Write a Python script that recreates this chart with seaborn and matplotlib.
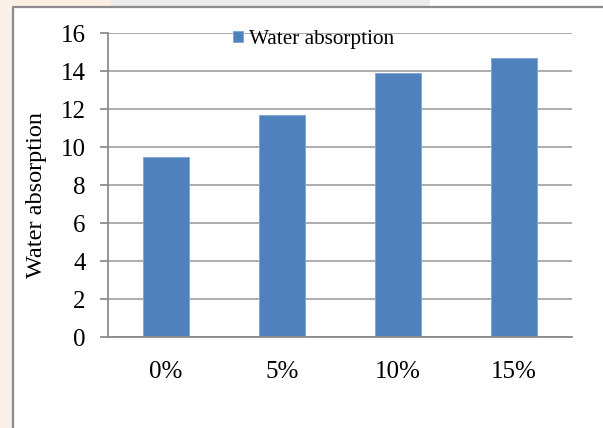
import matplotlib
matplotlib.use("Agg")
import matplotlib.pyplot as plt
from matplotlib.lines import Line2D
from matplotlib.patches import Rectangle
import seaborn as sns
import pandas as pd

categories = ["0%", "5%", "10%", "15%"]
water_absorption = [9.5, 11.7, 13.9, 14.7]
y_ticks = [0, 2, 4, 6, 8, 10, 12, 14, 16]
series_name = "Water absorption"

sns.set_style("white")
plt.rcParams["font.family"] = ["Liberation Serif", "DejaVu Serif"]
plt.rcParams["text.color"] = "black"
plt.rcParams["axes.labelcolor"] = "black"
plt.rcParams["xtick.labelcolor"] = "black"
plt.rcParams["ytick.labelcolor"] = "black"

W, H = 603, 428
fig = plt.figure(figsize=(W / 100, H / 100), dpi=100, facecolor="white")

# faint page background showing outside the chart frame
bg = [
    (0, H - 6, 110, 6, "#fdeee2"),
    (110, H - 6, 320, 6, "#ececec"),
    (0, 0, 12, H, "#fbf1ea"),
]
for x0, y0, w, h, c in bg:
    fig.patches.append(Rectangle((x0 / W, y0 / H), w / W, h / H,
                                 transform=fig.transFigure, color=c,
                                 lw=0, zorder=0))

# chart frame (left and top edges visible)
fx, fy = 12.5 / W, 1 - 6.5 / H
fig.lines.append(Line2D([fx, fx], [0, fy], transform=fig.transFigure,
                        color="#8c8c8c", lw=1.6))
fig.lines.append(Line2D([fx, 1], [fy, fy], transform=fig.transFigure,
                        color="#8c8c8c", lw=1.6))

ax = fig.add_axes([108 / W, 1 - 337 / H, (572 - 108) / W, (337 - 33) / H])
ax.set_facecolor("white")

df = pd.DataFrame({"cat": categories, "val": water_absorption})
sns.barplot(data=df, x="cat", y="val", color="#4F81BD", width=0.4,
            saturation=1, ax=ax, label=series_name, zorder=3,
            edgecolor="#7fa3d4", linewidth=0.6)

ax.set_xlim(-0.5, len(categories) - 0.5)
ax.set_ylim(0, 16)
ax.set_yticks(y_ticks)
ax.yaxis.grid(True, color="#a6a6a6", lw=1.3, zorder=0)
ax.set_axisbelow(True)

for s in ["top", "right"]:
    ax.spines[s].set_visible(False)
for s in ["left", "bottom"]:
    ax.spines[s].set_color("#8c8c8c")
    ax.spines[s].set_linewidth(1.3)
    ax.spines[s].set_zorder(4)

ax.set_xticks([i - 0.5 for i in range(len(categories) + 1)], minor=True)
ax.tick_params(axis="x", which="major", length=0, pad=17, labelsize=18,
               labelcolor="black")
ax.tick_params(axis="x", which="minor", length=6, width=1.3,
               color="#8c8c8c", direction="out")
ax.tick_params(axis="y", length=6, width=1.3, color="#8c8c8c",
               direction="out", pad=10, labelsize=18, left=True,
               labelcolor="black")

ax.set_xlabel("")
ax.set_ylabel(series_name, fontsize=17.5, color="black")
ax.yaxis.set_label_coords(-0.131, 0.467)

leg = ax.legend(loc="center left", bbox_to_anchor=(233 / W, 1 - 39.5 / H),
                bbox_transform=fig.transFigure, frameon=False, fontsize=15.3,
                handlelength=0.48, handleheight=0.48, handletextpad=0.25,
                borderpad=0, borderaxespad=0)
for t in leg.get_texts():
    t.set_color("black")

fig.savefig("out.png", dpi=100, facecolor="white")
